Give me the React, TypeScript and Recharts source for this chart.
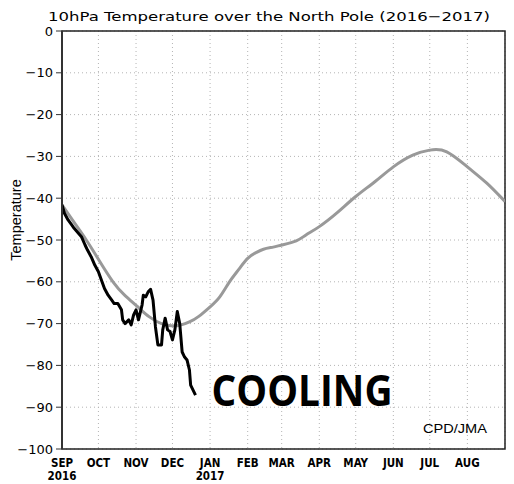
import { CartesianGrid, Line, LineChart, ReferenceArea, XAxis, YAxis } from 'recharts'

// days since 1 Sep 2016
const monthStarts = [0, 30, 61, 91, 122, 153, 181, 212, 242, 273, 303, 334]
const monthLabels = ['SEP', 'OCT', 'NOV', 'DEC', 'JAN', 'FEB', 'MAR', 'APR', 'MAY', 'JUN', 'JUL', 'AUG']
const yearLabels = ['2016', '', '', '', '2017', '', '', '', '', '', '', '']
const tempTicks = [0, -10, -20, -30, -40, -50, -60, -70, -80, -90, -100]

// climatology (gray)
const climDays = [0, 10, 20, 30, 42, 52, 62, 72, 82, 90, 97, 105, 113, 122, 130, 138, 146, 153, 160, 166, 174, 181, 193, 201, 212, 227, 242, 258, 273, 289, 303, 317, 334, 350, 365]
const climTemps = [-41.6, -45.8, -50.0, -54.6, -60.0, -63.3, -65.9, -68.4, -70.0, -70.5, -70.4, -69.6, -68.2, -66.0, -63.6, -60.0, -56.9, -54.4, -53.0, -52.2, -51.7, -51.2, -50.2, -48.8, -46.8, -43.4, -39.6, -36.0, -32.5, -29.7, -28.5, -28.9, -32.5, -36.4, -40.8]

// observed 2016 (black)
const obsDays = [0, 2, 5, 8, 10, 13, 16, 19, 21, 24, 27, 30, 32, 35, 38, 41, 43, 46, 49, 50, 52, 55, 57, 59, 61, 63, 66, 67, 69, 71, 73, 75, 77, 79, 82, 83, 85, 87, 89, 91, 93, 95, 97, 99, 101, 103, 105, 106, 108, 110]
const obsTemps = [-41.6, -43.6, -45.2, -46.4, -47.2, -48.2, -49.2, -51.2, -52.4, -54.0, -56.0, -57.6, -59.2, -61.6, -63.2, -64.4, -65.2, -65.2, -66.7, -69.1, -70.0, -69.1, -70.3, -67.9, -66.7, -69.1, -65.5, -63.2, -63.6, -62.4, -61.8, -64.4, -70.8, -75.1, -75.1, -71.5, -68.7, -71.5, -71.9, -73.9, -71.5, -67.1, -70.0, -76.8, -78.0, -78.7, -81.1, -84.7, -85.9, -87.1]

const climData = climDays.map((day, i) => ({ day, temp: climTemps[i] }))
const obsData = obsDays.map((day, i) => ({ day, temp: obsTemps[i] }))

const fmtTemp = (v: number) => (v < 0 ? `\u2212${-v}` : `${v}`)

const tickFont = "'Liberation Sans Narrow', 'DejaVu Sans Condensed', sans-serif"

function MonthTick(props: any) {
  const { x, y, payload } = props
  const i = monthStarts.indexOf(payload.value)
  return (
    <g>
      <text x={x} y={y + 9.5} textAnchor="middle" fontFamily={tickFont} fontSize={11.5} fontWeight={700} fill="#000">
        {monthLabels[i]}
      </text>
      {yearLabels[i] && (
        <text x={x} y={y + 22.5} textAnchor="middle" fontFamily={tickFont} fontSize={11.5} fontWeight={700} fill="#000">
          {yearLabels[i]}
        </text>
      )}
    </g>
  )
}

export default function App() {
  return (
    <div style={{ position: 'absolute', left: 0, top: 0, width: 514, height: 484, background: '#fff' }}>
      <LineChart width={514} height={484} margin={{ top: 31, right: 9, bottom: 0, left: 0 }}>
        <CartesianGrid stroke="#b4b4b4" strokeDasharray="1 3" />
        <XAxis
          type="number"
          dataKey="day"
          domain={[0, 365]}
          ticks={monthStarts}
          tick={<MonthTick />}
          tickLine={false}
          axisLine={false}
          height={35}
          allowDataOverflow
        />
        <YAxis
          type="number"
          domain={[-100, 0]}
          ticks={tempTicks}
          tickFormatter={fmtTemp}
          width={62}
          tickSize={6}
          tickMargin={3}
          tick={{ fontFamily: 'DejaVu Sans', fontSize: 13, fill: '#000' }}
          tickLine={{ stroke: '#333' }}
          axisLine={{ stroke: '#333', strokeWidth: 2 }}
        />
        <ReferenceArea x1={0} x2={365} y1={-100} y2={0} fill="none" stroke="#222" strokeWidth={1.5} ifOverflow="visible" />
        <Line data={climData} dataKey="temp" type="natural" stroke="#999" strokeWidth={3} dot={false} isAnimationActive={false} />
        <Line data={obsData} dataKey="temp" type="linear" stroke="#000" strokeWidth={3} dot={false} strokeLinejoin="round" isAnimationActive={false} />
      </LineChart>
      <svg width={514} height={484} style={{ position: 'absolute', left: 0, top: 0, pointerEvents: 'none' }}>
        <text x={48} y={20.5} fontFamily="'DejaVu Sans', sans-serif" fontSize={13} textLength={442} lengthAdjust="spacingAndGlyphs" fill="#000">
          10hPa Temperature over the North Pole (2016{'\u2212'}2017)
        </text>
        <text x={20.5} y={220} transform="rotate(-90 20.5 220)" textAnchor="middle" fontFamily="'Liberation Sans', sans-serif" fontSize={14.5} fill="#000">
          Temperature
        </text>
        <text x={211.5} y={406} fontFamily="'Open Sans', sans-serif" fontWeight={700} fontSize={43} textLength={181} lengthAdjust="spacingAndGlyphs" fill="#000">
          COOLING
        </text>
        <text x={423} y={432.5} fontFamily="'Liberation Sans', sans-serif" fontSize={13.5} textLength={64} lengthAdjust="spacingAndGlyphs" fill="#000">
          CPD/JMA
        </text>
      </svg>
    </div>
  )
}
